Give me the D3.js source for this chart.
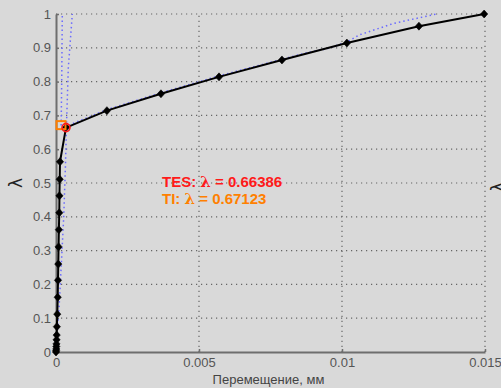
<!DOCTYPE html>
<html>
<head>
<meta charset="utf-8">
<script src="https://cdn.jsdelivr.net/npm/d3@7"></script>
<style>
  html, body { margin: 0; padding: 0; background: #d9d9d9; overflow: hidden; }
  svg { display: block; font-family: "Liberation Sans", Arial, sans-serif; }
</style>
</head>
<body>
<svg id="chart" width="501" height="388"></svg>
<script>
// Load path: displacement (mm) against load factor λ
const tesX = [0, 0.000005, 0.00001, 0.000013, 0.000016, 0.00002, 0.000024, 0.00003,
  0.000045, 0.00006, 0.00007, 0.00008, 0.00009, 0.0001, 0.000115, 0.00012, 0.00013,
  0.00014, 0.00035, 0.00178, 0.00367, 0.0057, 0.0079, 0.01017, 0.01269, 0.01497];
const tesY = [0, 0.004, 0.009, 0.016, 0.024, 0.036, 0.05, 0.075,
  0.112, 0.162, 0.212, 0.26, 0.311, 0.362, 0.412, 0.462, 0.511,
  0.563, 0.66386, 0.714, 0.764, 0.814, 0.864, 0.914, 0.964, 1.0];

// Companion curves (dotted blue)
const refAX = [0, 0.00004, 0.0001, 0.00018, 0.00027, 0.00033, 0.00037, 0.00043, 0.00057];
const refAY = [0, 0.05, 0.12, 0.25, 0.4, 0.55, 0.68, 0.84, 1.0];
const refBX = [0.00018, 0.0002, 0.00021, 0.00022];
const refBY = [0.67, 0.8, 0.9, 1.0];
const refCX = [0.0003, 0.00178, 0.00367, 0.0057, 0.0079, 0.0087, 0.0095, 0.0102, 0.0106, 0.0118, 0.0133];
const refCY = [0.666, 0.717, 0.767, 0.817, 0.866, 0.884, 0.898, 0.918, 0.938, 0.972, 1.0];

// Detected critical points
const tesPoint = { x: 0.00035, y: 0.66386 };
const tiPoint = { x: 0.000175, y: 0.67123 };

const xTicks = [0, 0.005, 0.01, 0.015];
const xTickLabels = ["0", "0.005", "0.01", "0.015"];
const yTicks = [0, 0.1, 0.2, 0.3, 0.4, 0.5, 0.6, 0.7, 0.8, 0.9, 1];
const yTickLabels = ["0", "0.1", "0.2", "0.3", "0.4", "0.5", "0.6", "0.7", "0.8", "0.9", "1"];

const xTitle = "Перемещение, мм";
const yTitle = "λ";

const svg = d3.select("#chart");
const x = d3.scaleLinear().domain([0, 0.015]).range([56, 485]);
const y = d3.scaleLinear().domain([0, 1]).range([352, 14]);

// dotted grid
const grid = svg.append("g")
  .attr("stroke", "#666").attr("stroke-width", 1.2).attr("stroke-dasharray", "1.2,3.8");
grid.selectAll("line.h").data(yTicks.filter(d => d > 0)).join("line")
  .attr("x1", x(0)).attr("x2", x(0.015)).attr("y1", d => y(d)).attr("y2", d => y(d));
grid.selectAll("line.v").data(xTicks.filter(d => d > 0)).join("line")
  .attr("y1", y(0)).attr("y2", y(1)).attr("x1", d => x(d)).attr("x2", d => x(d));

// axes
const yAxis = d3.axisLeft(y).tickValues(yTicks)
  .tickFormat((d, i) => yTickLabels[i]).tickSizeInner(-3).tickSizeOuter(0).tickPadding(5);
const xAxis = d3.axisBottom(x).tickValues(xTicks)
  .tickFormat((d, i) => xTickLabels[i]).tickSizeInner(-3).tickSizeOuter(0).tickPadding(6);

function styleAxis(g) {
  g.select(".domain").attr("stroke", "#6e6e6e").attr("stroke-width", 2);
  g.selectAll(".tick line").attr("stroke", "#6e6e6e").attr("stroke-width", 1.5);
  g.selectAll(".tick text").attr("fill", "#555").attr("font-size", 13)
    .attr("font-family", "'Liberation Sans', Arial, sans-serif");
}
svg.append("g").attr("transform", `translate(${x(0)},0)`).call(yAxis).call(styleAxis);
svg.append("g").attr("transform", `translate(0,${y(0)})`).call(xAxis).call(styleAxis);

// axis titles
svg.append("text").attr("x", (x(0) + x(0.015)) / 2 - 2).attr("y", 384)
  .attr("text-anchor", "middle").attr("font-size", 13).attr("fill", "#444").text(xTitle);
svg.append("text").attr("transform", "translate(22,183) rotate(-90)")
  .attr("text-anchor", "middle").attr("font-size", 17)
  .attr("font-family", "'DejaVu Sans', sans-serif").attr("fill", "#222").text(yTitle);
// second λ label, cut by the right edge
svg.append("text").attr("transform", "translate(504,187) rotate(-90)")
  .attr("text-anchor", "middle").attr("font-size", 17)
  .attr("font-family", "'DejaVu Sans', sans-serif").attr("fill", "#222").text(yTitle);

const line = d3.line().x(d => x(d[0])).y(d => y(d[1]));
const zip = (a, b) => a.map((v, i) => [v, b[i]]);

// blue dotted companion curves
[[refAX, refAY], [refBX, refBY], [refCX, refCY]].forEach(([xs, ys]) => {
  svg.append("path").datum(zip(xs, ys)).attr("d", line)
    .attr("fill", "none").attr("stroke", "#6a6aff").attr("stroke-width", 1.5)
    .attr("stroke-dasharray", "1.5,3");
});

// main black path with diamond markers
const tes = zip(tesX, tesY);
svg.append("path").datum(tes).attr("d", line)
  .attr("fill", "none").attr("stroke", "#000").attr("stroke-width", 2);
svg.append("g").selectAll("path").data(tes).join("path")
  .attr("d", d => {
    const cx = x(d[0]), cy = y(d[1]), w = 3.6, h = 4;
    return `M${cx},${cy - h}L${cx + w},${cy}L${cx},${cy + h}L${cx - w},${cy}Z`;
  })
  .attr("fill", "#000").attr("stroke", "#000").attr("stroke-width", 0.6);

// critical point markers
svg.append("rect")
  .attr("x", x(tiPoint.x) - 4.5).attr("y", y(tiPoint.y) - 4)
  .attr("width", 9).attr("height", 8)
  .attr("fill", "none").attr("stroke", "#ff7f00").attr("stroke-width", 2);
svg.append("circle")
  .attr("cx", x(tesPoint.x)).attr("cy", y(tesPoint.y)).attr("r", 4)
  .attr("fill", "none").attr("stroke", "#ff1a1a").attr("stroke-width", 1.6);

// annotations
function note(yb, color, label, value) {
  const t = svg.append("text").attr("x", 162).attr("y", yb)
    .attr("font-size", 15).attr("font-weight", "bold").attr("fill", color);
  t.append("tspan").text(label + ": ");
  t.append("tspan").attr("font-family", "'DejaVu Serif', serif").text("λ");
  t.append("tspan").text(" = " + value);
}
note(187, "#ff1a1a", "TES", tesPoint.y.toFixed(5));
note(204, "#ff8000", "TI", tiPoint.y.toFixed(5));
</script>
</body>
</html>
